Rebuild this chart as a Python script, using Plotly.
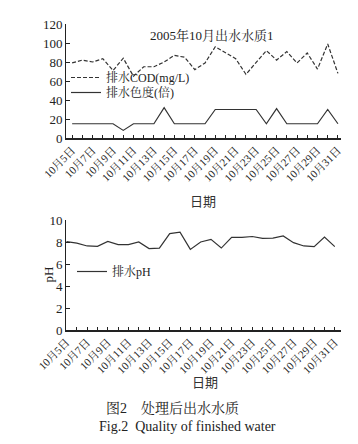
import plotly.graph_objects as go
from plotly.subplots import make_subplots

dates = [f"10月{d}日" for d in range(5, 32)]
cod = [79, 82, 80, 83.5, 71, 84, 65, 75, 75, 80, 87, 85, 72, 79, 96, 90, 83.5, 67, 79, 92, 82, 91, 79, 89.5, 72.5, 99, 68]
color = [15, 15, 15, 15, 15, 8, 15, 15, 15, 32, 15, 15, 15, 15, 30, 30, 30, 30, 30, 15, 31, 15, 15, 15, 15, 30, 15]
ph = [8.03, 7.9, 7.64, 7.6, 8.06, 7.76, 7.76, 8.0, 7.4, 7.45, 8.76, 8.9, 7.33, 8.0, 8.24, 7.45, 8.42, 8.42, 8.5, 8.33, 8.36, 8.55, 7.94, 7.64, 7.58, 8.45, 7.58]
tick_text = [d if i % 2 == 0 else "" for i, d in enumerate(dates)]

SERIF = "Liberation Serif, Times New Roman, Noto Serif CJK SC, Noto Sans CJK SC, serif"
W, H = 358, 444
L, R = 58, 25
PW = W - L - R

fig = make_subplots(rows=2, cols=1)
fig.add_trace(go.Scatter(x=dates, y=cod, mode="lines", name="排水COD(mg/L)", showlegend=True,
                         line=dict(color="#333", width=1.2, dash="4px,2px"), legend="legend"), row=1, col=1)
fig.add_trace(go.Scatter(x=dates, y=color, mode="lines", name="排水色度(倍)", showlegend=True,
                         line=dict(color="#333", width=1.2), legend="legend2"), row=1, col=1)
fig.add_trace(go.Scatter(x=dates, y=ph, mode="lines", name="排水pH", showlegend=True,
                         line=dict(color="#333", width=1.2), legend="legend3"), row=2, col=1)

def py(px):
    return (H - px) / H

def pxx(px):
    return (px - L) / PW

xcommon = dict(type="category", tickmode="array", tickvals=dates, ticktext=tick_text,
               tickangle=-45, ticks="inside", ticklen=3, tickcolor="#222", automargin=False,
               showline=True, linecolor="#222", linewidth=1.5, showgrid=False, zeroline=False,
               tickfont=dict(family=SERIF, size=11, color="#222"))
ycommon = dict(ticks="inside", ticklen=4, tickcolor="#222", showline=True, linecolor="#222",
               linewidth=1, showgrid=False, zeroline=False, automargin=False,
               tickfont=dict(family=SERIF, size=13, color="#222"))
legfont = dict(family=SERIF, size=12, color="#222")
legcommon = dict(xanchor="left", yanchor="top", bgcolor="rgba(0,0,0,0)", font=legfont)

fig.update_layout(
    width=W, height=H, margin=dict(l=L, r=R, t=0, b=0),
    paper_bgcolor="white", plot_bgcolor="white", showlegend=True,
    font=dict(family=SERIF, color="#222"),
    xaxis=dict(**xcommon, domain=[0, 1], range=[-0.6, 26.3]),
    xaxis2=dict(**xcommon, domain=[0, 1], range=[-0.05, 26.6]),
    yaxis=dict(**ycommon, domain=[py(130), py(16)], range=[0, 120], dtick=20),
    yaxis2=dict(**ycommon, domain=[py(322), py(212)], range=[0, 10], dtick=2),
    legend=dict(**legcommon, x=0.0, y=py(55), visible=True),
    legend2=dict(**legcommon, x=0.0, y=py(70)),
    legend3=dict(**legcommon, x=pxx(64), y=py(249)),
    annotations=[
        dict(text="2005年10月出水水质1", x=pxx(204), xref="paper", y=py(18), yref="paper", showarrow=False,
             font=dict(size=13)),
        dict(text="日期", x=pxx(195), xref="paper", y=py(192), yref="paper", showarrow=False,
             font=dict(family="Noto Sans CJK SC", size=13, color="#333")),
        dict(text="日期", x=pxx(197), xref="paper", y=py(385), yref="paper", showarrow=False,
             font=dict(family="Noto Sans CJK SC", size=13, color="#333")),
        dict(text="pH", x=pxx(30), xref="paper", y=py(267), yref="paper", showarrow=False,
             textangle=-90, font=dict(size=13)),
        dict(text="图2　处理后出水水质", x=pxx(164), xref="paper", y=py(410), yref="paper",
             showarrow=False, font=dict(size=14)),
        dict(text="Fig.2  Quality of finished water", x=pxx(179), xref="paper", y=py(428), yref="paper",
             showarrow=False, font=dict(size=14)),
    ],
)
fig.write_html("out.html")
